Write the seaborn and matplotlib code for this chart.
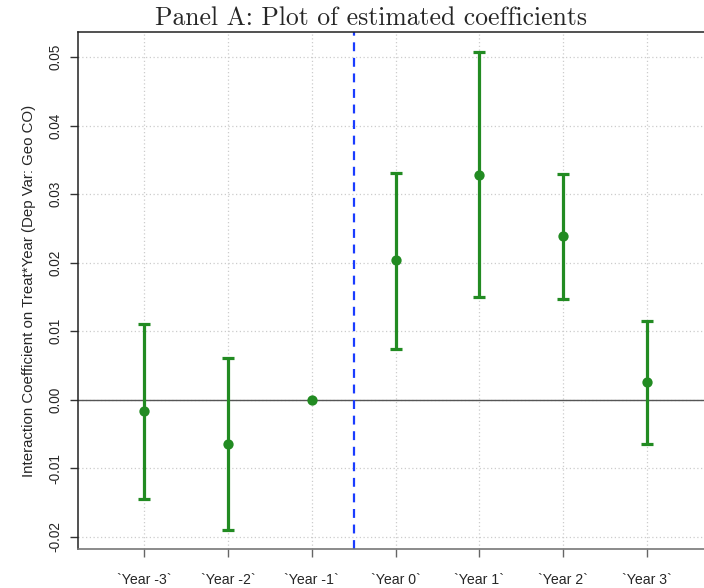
import matplotlib
matplotlib.use("Agg")
import matplotlib.pyplot as plt
import seaborn as sns
import pandas as pd

categories = ["`Year -3`", "`Year -2`", "`Year -1`", "`Year 0`", "`Year 1`", "`Year 2`", "`Year 3`"]
estimates = [-0.0016, -0.0064, 0.0, 0.0204, 0.0328, 0.0239, 0.0026]
ci_low = [-0.0144, -0.0190, 0.0, 0.0074, 0.0150, 0.0147, -0.0064]
ci_high = [0.0111, 0.0061, 0.0, 0.0331, 0.0507, 0.0330, 0.0115]
yticks = [-0.02, -0.01, 0.00, 0.01, 0.02, 0.03, 0.04, 0.05]
ytick_labels = ["-0.02", "-0.01", "0.00", "0.01", "0.02", "0.03", "0.04", "0.05"]

df = pd.DataFrame({"period": categories, "est": estimates, "lo": ci_low, "hi": ci_high})

sns.set_style("white")
plt.rcParams["font.family"] = ["Liberation Sans", "DejaVu Sans"]

fig = plt.figure(figsize=(7.04, 5.88), dpi=100)
ax = fig.add_axes([78 / 704, 1 - 549 / 588, (713 - 78) / 704, (549 - 32) / 588])

green = "#228B22"
pos = list(range(len(categories)))

# grid
for y in yticks:
    ax.axhline(y, color="#cccccc", lw=0.9, ls=(0, (1, 2)), zorder=0)
for x in pos:
    ax.axvline(x, color="#cccccc", lw=0.9, ls=(0, (1, 2)), zorder=0)

ax.axhline(0, color="#555555", lw=1.0, zorder=1)
ax.axvline(2.5, color="#1a3cff", lw=1.6, ls=(0, (4, 3)), zorder=1)

for i, row in df.iterrows():
    if row["hi"] != row["lo"]:
        ax.errorbar(i, row["est"], yerr=[[row["est"] - row["lo"]], [row["hi"] - row["est"]]],
                    fmt="none", ecolor=green, elinewidth=2.3, capsize=4, capthick=2.3, zorder=2)

sns.scatterplot(data=df, x="period", y="est", color=green, s=55, edgecolor=green,
                linewidth=0, ax=ax, zorder=3)

ax.set_xlim(-0.79, 6.79)
ax.set_ylim(-0.02175, 0.05365)
ax.set_xticks(pos)
ax.set_xticklabels(categories, fontsize=10.2)
ax.set_yticks(yticks)
ax.set_yticklabels(ytick_labels, rotation=90, va="center", fontsize=9.8)
ax.tick_params(axis="y", direction="out", length=6, width=1, color="#333333", pad=5, left=True)
ax.tick_params(axis="x", direction="out", length=6, width=1, color="#666666", pad=11, bottom=True)
ax.set_xlabel("")
ax.set_ylabel("Interaction Coefficient on Treat*Year (Dep Var: Geo CO)", fontsize=10.8, labelpad=9)

for side in ["left", "top", "right"]:
    ax.spines[side].set_color("#222222")
    ax.spines[side].set_linewidth(1.1)
ax.spines["bottom"].set_color("#777777")
ax.spines["bottom"].set_linewidth(1.2)

fig.text(371 / 704, 1 - 25 / 588, "Panel A: Plot of estimated coefficients",
         family="cmr10", fontsize=18.5, ha="center", va="baseline")

fig.savefig("out.png", dpi=100)
